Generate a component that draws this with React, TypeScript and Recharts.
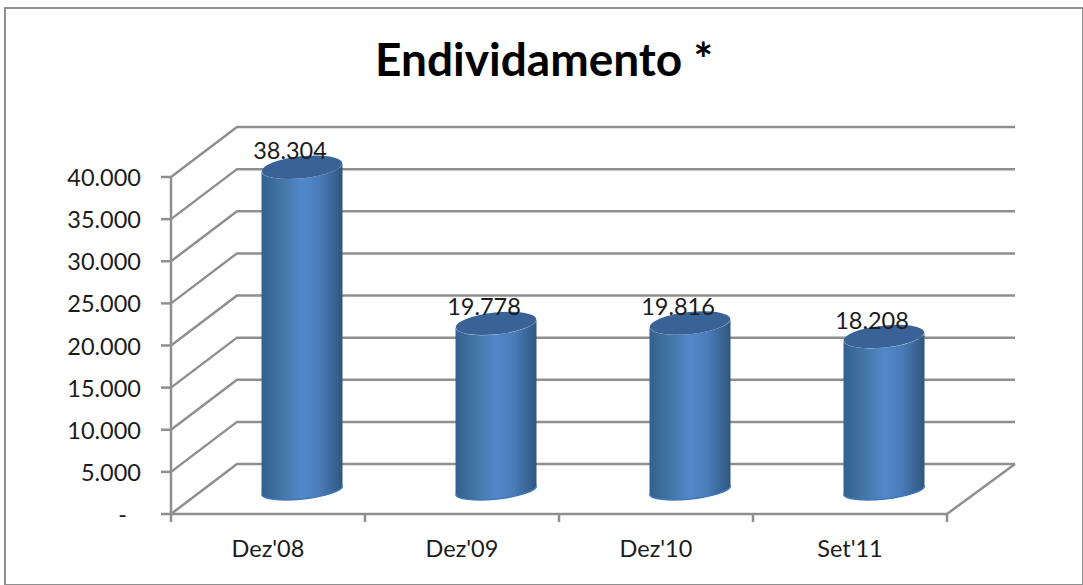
import React from "react";
import { BarChart, Bar, XAxis, YAxis, CartesianGrid, LabelList } from "recharts";

const categories = ["Dez'08", "Dez'09", "Dez'10", "Set'11"];
const debtValues = [38304, 19778, 19816, 18208];
const yTicks = [0, 5000, 10000, 15000, 20000, 25000, 30000, 35000, 40000];

const rows = categories.map((name, i) => ({ name, value: debtValues[i] }));

const W = 1083;
const H = 585;
const GREY = "#8f8f8f";
const LINE_W = 2.5;
const FONT = "Lato, Carlito, sans-serif";
const TEXT = "#1c1c1c";
const LABEL_SIZE = 23.5;
// depth of the pseudo-3D box
const DEPTH_X = 66;
const DEPTH_Y = -50;
const BACK_RIGHT_EXTRA = 2;
// offset of the cylinders from the front plane
const BAR_DX = 33.5;
const BAR_DY = -24;
const RY_TOP = 11;
const RY_BASE = 9;
const TILT = -6;

const fmt = (v: number) => String(v).replace(/\B(?=(\d{3})+$)/g, ".");

const GridLine = (p: any) => (
  <path
    d={`M${p.x1} ${p.y1} L${p.x1 + DEPTH_X} ${p.y1 + DEPTH_Y} L${p.x2 + DEPTH_X + BACK_RIGHT_EXTRA} ${p.y1 + DEPTH_Y}`}
    fill="none"
    stroke={GREY}
    strokeWidth={LINE_W}
  />
);

const Cylinder = (p: any) => {
  const cx = p.x + p.width / 2 + BAR_DX;
  const rx = p.width / 2;
  const top = p.y + BAR_DY;
  const base = p.y + p.height + BAR_DY;
  const e = 4.2;
  const arc = (to: string, sweep: number, ry: number) => `A${rx} ${ry} ${TILT} 0 ${sweep} ${to}`;
  return (
    <g>
      <path
        d={`M${cx - rx} ${top + e} L${cx - rx} ${base + e} ${arc(`${cx + rx} ${base - e}`, 0, RY_BASE)} L${cx + rx} ${top - e} ${arc(`${cx - rx} ${top + e}`, 1, RY_TOP)} Z`}
        fill="url(#cyl)"
      />
      <path
        d={`M${cx - rx} ${base + e} ${arc(`${cx + rx} ${base - e}`, 0, RY_BASE)}`}
        fill="none"
        stroke="#3f78bd"
        strokeWidth={1.5}
      />
      <ellipse cx={cx} cy={top} rx={rx} ry={RY_TOP} transform={`rotate(${TILT} ${cx} ${top})`} fill="#396396" />
    </g>
  );
};

const ValueLabel = (p: any) => (
  <text
    x={p.x + p.width / 2 + BAR_DX - 12}
    y={p.y + BAR_DY - 8}
    textAnchor="middle"
    fontFamily={FONT}
    fontSize={LABEL_SIZE}
    fill={TEXT}
  >
    {fmt(p.value)}
  </text>
);

const YTick = (p: any) => {
  const v = p.payload.value;
  return (
    <text
      x={v === 0 ? p.x - 14 : p.x}
      y={p.y + 9}
      textAnchor="end"
      fontFamily={FONT}
      fontSize={LABEL_SIZE}
      fill={TEXT}
    >
      {v === 0 ? "-" : fmt(v)}
    </text>
  );
};

const XTick = (p: any) => {
  const half = 97;
  const last = p.index === categories.length - 1;
  return (
    <g>
      <line x1={p.x - half} x2={p.x - half} y1={514} y2={522} stroke={GREY} strokeWidth={LINE_W} />
      {last && (
        <>
          <line x1={p.x + half} x2={p.x + half} y1={514} y2={522} stroke={GREY} strokeWidth={LINE_W} />
          <line x1={p.x + half} x2={p.x + half + DEPTH_X + BACK_RIGHT_EXTRA} y1={514} y2={514 + DEPTH_Y} stroke={GREY} strokeWidth={LINE_W} />
        </>
      )}
      <text x={p.x} y={557} textAnchor="middle" fontFamily={FONT} fontSize={LABEL_SIZE} fill={TEXT}>
        {p.payload.value}
      </text>
    </g>
  );
};

export default function App() {
  return (
    <div style={{ position: "absolute", left: 0, top: 0, width: W, height: H, overflow: "hidden", background: "#fff" }}>
      <div
        style={{
          position: "absolute",
          left: 4,
          top: 7,
          width: 1076,
          height: 575,
          border: `2px solid ${GREY}`,
        }}
      />
      <div
        style={{
          position: "absolute",
          left: 0,
          width: 1088,
          top: 34,
          textAlign: "center",
          fontFamily: FONT,
          fontWeight: 700,
          fontSize: 46,
          lineHeight: "50px",
          color: "#000",
        }}
      >
        Endividamento *
      </div>
      <div style={{ position: "absolute", left: 0, top: 0 }}>
        <BarChart width={W} height={H} data={rows} margin={{ top: 177, right: 136, bottom: 0, left: 0 }}>
          <defs>
            <linearGradient id="cyl" x1="0" x2="1" y1="0" y2="0">
              <stop offset="0" stopColor="#33608f" />
              <stop offset="0.2" stopColor="#41719f" />
              <stop offset="0.5" stopColor="#5288cb" />
              <stop offset="0.72" stopColor="#4a7cb9" />
              <stop offset="1" stopColor="#2f567f" />
            </linearGradient>
          </defs>
          <CartesianGrid vertical={false} horizontal={GridLine} syncWithTicks />
          <XAxis
            dataKey="name"
            axisLine={{ stroke: GREY, strokeWidth: LINE_W }}
            tickLine={false}
            tick={XTick}
            interval={0}
            height={71}
          />
          <YAxis
            domain={[0, 40000]}
            ticks={yTicks}
            interval={0}
            width={171}
            axisLine={{ stroke: GREY, strokeWidth: LINE_W }}
            tickLine={{ stroke: GREY, strokeWidth: LINE_W }}
            tickSize={10}
            tickMargin={20}
            tick={YTick}
          />
          <Bar dataKey="value" barSize={81} shape={Cylinder} isAnimationActive={false}>
            <LabelList dataKey="value" content={ValueLabel} />
          </Bar>
        </BarChart>
      </div>
    </div>
  );
}
